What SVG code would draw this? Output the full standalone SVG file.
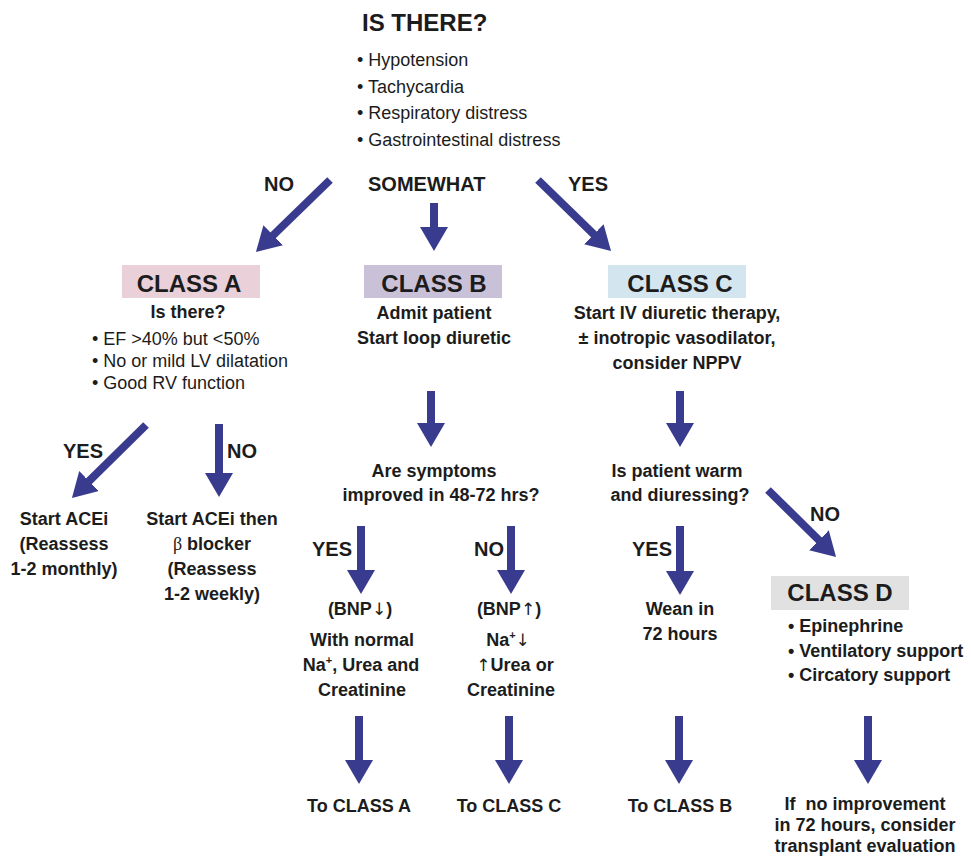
<svg xmlns="http://www.w3.org/2000/svg" width="971" height="857" viewBox="0 0 971 857">
<style>
text{font-family:"Liberation Sans",Arial,Helvetica,sans-serif;fill:#1c1c1c;font-size:18px}
.b{font-weight:bold}
.n{font-weight:normal}
.ttl{font-weight:bold;font-size:24px}
.lbl{font-weight:bold;font-size:20px}
.cls{font-weight:bold;font-size:24px;text-anchor:middle}
.m{text-anchor:middle}
.arr{stroke:#393b8e;stroke-width:8;fill:none}
.sup{font-size:11px}
.ar{font-family:"DejaVu Sans",sans-serif;font-weight:normal;font-size:17px}
.beta{font-family:"Liberation Serif",serif;font-weight:normal}
</style>
<defs>
<marker id="ah" markerUnits="userSpaceOnUse" viewBox="0 0 24 28" refX="4" refY="14" markerWidth="24" markerHeight="28" orient="auto">
<path d="M0,0 L24,14 L0,28 Z" fill="#393b8e"/>
</marker>
</defs>
<rect width="971" height="857" fill="#ffffff"/>

<g id="connectors">
<line class="arr" x1="330" y1="180" x2="270.3" y2="238" marker-end="url(#ah)"/>
<line class="arr" x1="434" y1="203" x2="434" y2="231" marker-end="url(#ah)"/>
<line class="arr" x1="538" y1="180" x2="596.7" y2="237.1" marker-end="url(#ah)"/>
<line class="arr" x1="146" y1="425" x2="86.2" y2="483.9" marker-end="url(#ah)"/>
<line class="arr" x1="219" y1="424" x2="219" y2="477" marker-end="url(#ah)"/>
<line class="arr" x1="431" y1="391" x2="431" y2="427" marker-end="url(#ah)"/>
<line class="arr" x1="680" y1="391" x2="680" y2="427" marker-end="url(#ah)"/>
<line class="arr" x1="361" y1="526" x2="361" y2="574" marker-end="url(#ah)"/>
<line class="arr" x1="511" y1="526" x2="511" y2="574" marker-end="url(#ah)"/>
<line class="arr" x1="768" y1="490" x2="821.8" y2="543" marker-end="url(#ah)"/>
<line class="arr" x1="680" y1="526" x2="680" y2="575" marker-end="url(#ah)"/>
<line class="arr" x1="359" y1="716" x2="359" y2="764" marker-end="url(#ah)"/>
<line class="arr" x1="509" y1="716" x2="509" y2="764" marker-end="url(#ah)"/>
<line class="arr" x1="679" y1="716" x2="679" y2="764" marker-end="url(#ah)"/>
<line class="arr" x1="868" y1="716" x2="868" y2="764" marker-end="url(#ah)"/>
<text class="lbl" x="264" y="191">NO</text>
<text class="lbl" x="368" y="191">SOMEWHAT</text>
<text class="lbl" x="568" y="191">YES</text>
<text class="lbl" x="63" y="458">YES</text>
<text class="lbl" x="227" y="458">NO</text>
<text class="lbl" x="312" y="556">YES</text>
<text class="lbl" x="474" y="556">NO</text>
<text class="lbl" x="632" y="556">YES</text>
<text class="lbl" x="810" y="521">NO</text>
</g>

<g id="start">
<text class="ttl" x="362" y="31">IS THERE?</text>
<text x="357" y="66">• Hypotension</text>
<text x="357" y="92.5">• Tachycardia</text>
<text x="357" y="119">• Respiratory distress</text>
<text x="357" y="145.5">• Gastrointestinal distress</text>
</g>

<g id="classA">
<rect x="122" y="265" width="138" height="33" fill="#e9d0d9"/>
<text class="cls" x="189" y="292">CLASS A</text>
<text class="b m" x="188" y="318">Is there?</text>
<text x="92" y="345">• EF &gt;40% but &lt;50%</text>
<text x="92" y="367">• No or mild LV dilatation</text>
<text x="92" y="389">• Good RV function</text>
</g>

<g id="classB">
<rect x="364" y="265" width="138" height="33" fill="#c9c1d8"/>
<text class="cls" x="434" y="292">CLASS B</text>
<text class="b m" x="434" y="318.5">Admit patient</text>
<text class="b m" x="434" y="344">Start loop diuretic</text>
</g>

<g id="classC">
<rect x="608" y="265" width="138" height="33" fill="#d3e6ef"/>
<text class="cls" x="680" y="292">CLASS C</text>
<text class="b m" x="677" y="319">Start IV diuretic therapy,</text>
<text class="b m" x="677" y="344">± inotropic vasodilator,</text>
<text class="b m" x="677" y="369">consider NPPV</text>
</g>

<g id="startACEi">
<text class="b m" x="64" y="525">Start ACEi</text>
<text class="b m" x="64" y="550">(Reassess</text>
<text class="b m" x="64" y="575">1-2 monthly)</text>
</g>

<g id="startACEiBeta">
<text class="b m" x="212" y="525">Start ACEi then</text>
<text class="b m" x="212" y="550"><tspan class="beta">β</tspan> blocker</text>
<text class="b m" x="212" y="575">(Reassess</text>
<text class="b m" x="212" y="600">1-2 weekly)</text>
</g>

<g id="symptomsQ">
<text class="b m" x="434" y="477">Are symptoms</text>
<text class="b m" x="441" y="501">improved in 48-72 hrs?</text>
</g>

<g id="warmQ">
<text class="b m" x="677" y="477">Is patient warm</text>
<text class="b m" x="680" y="501">and diuressing?</text>
</g>

<g id="bnpDown">
<text class="b m" x="360" y="615">(BNP<tspan class="ar">↓</tspan>)</text>
<text class="b m" x="362" y="646">With normal</text>
<text class="b m" x="361" y="671">Na<tspan class="sup" dy="-7">+</tspan><tspan dy="7">, Urea and</tspan></text>
<text class="b m" x="362" y="696">Creatinine</text>
</g>

<g id="bnpUp">
<text class="b m" x="509" y="615">(BNP<tspan class="ar">↑</tspan>)</text>
<text class="b m" x="508" y="646">Na<tspan class="sup" dy="-7">+</tspan><tspan class="ar" dy="7">↓</tspan></text>
<text class="b m" x="515" y="671"><tspan class="ar">↑</tspan>Urea or</text>
<text class="b m" x="511" y="696">Creatinine</text>
</g>

<g id="wean">
<text class="b m" x="680" y="615">Wean in</text>
<text class="b m" x="680" y="640">72 hours</text>
</g>

<g id="classD">
<rect x="771" y="576" width="138" height="34" fill="#e1e1e1"/>
<text class="cls" x="840" y="601">CLASS D</text>
<text class="b" x="788" y="632">• Epinephrine</text>
<text class="b" x="788" y="657">• Ventilatory support</text>
<text class="b" x="788" y="681">• Circatory support</text>
</g>

<g id="toA"><text class="b m" x="359" y="812">To CLASS A</text></g>
<g id="toC"><text class="b m" x="509" y="812">To CLASS C</text></g>
<g id="toB"><text class="b m" x="680" y="812">To CLASS B</text></g>
<g id="transplant">
<text class="b m" x="865" y="810" xml:space="preserve">If  no improvement</text>
<text class="b m" x="865" y="831">in 72 hours, consider</text>
<text class="b m" x="865" y="852">transplant evaluation</text>
</g>
</svg>
